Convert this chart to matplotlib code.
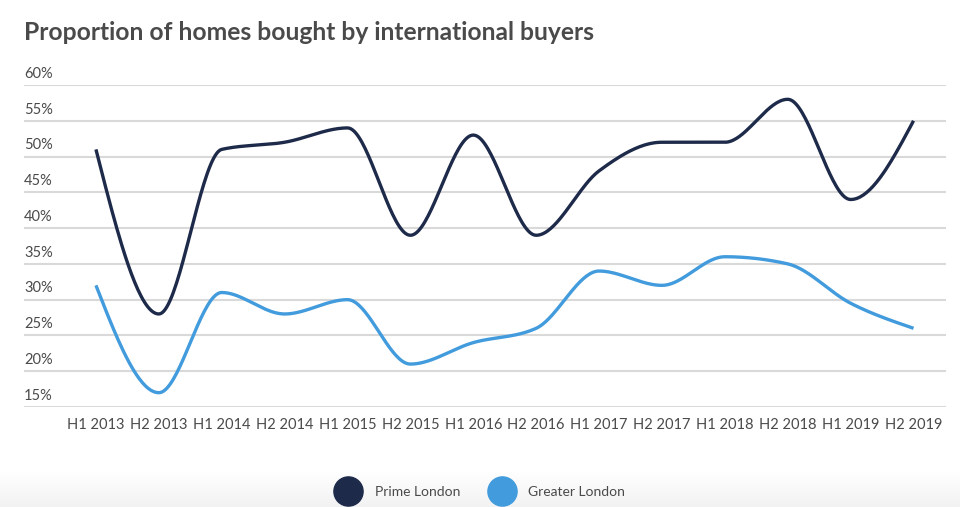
import numpy as np
import matplotlib
matplotlib.use('Agg')
from matplotlib import pyplot as plt
from matplotlib.lines import Line2D

periods = ['H1 2013', 'H2 2013', 'H1 2014', 'H2 2014', 'H1 2015', 'H2 2015', 'H1 2016',
           'H2 2016', 'H1 2017', 'H2 2017', 'H1 2018', 'H2 2018', 'H1 2019', 'H2 2019']
prime_london = [51, 28, 51, 52, 54, 39, 53, 39, 48, 52, 52, 58, 44, 55]
greater_london = [32, 17, 31, 28, 30, 21, 24, 26, 34, 32, 36, 35, 29.5, 26]
y_ticks = [15, 20, 25, 30, 35, 40, 45, 50, 55, 60]

PRIME = '#1e2a4a'
GREATER = '#419bdc'
TEXT = '#4a4a4a'

plt.rcParams['font.family'] = ['Lato', 'DejaVu Sans']


def monotone_x(xs, ys, n=40):
    # same smoothing as d3 curveMonotoneX, only for drawing the line
    xs = np.asarray(xs, float)
    ys = np.asarray(ys, float)
    h = np.diff(xs)
    s = np.diff(ys) / h
    t = np.zeros(len(xs))
    for i in range(1, len(xs) - 1):
        p = (s[i - 1] * h[i] + s[i] * h[i - 1]) / (h[i - 1] + h[i])
        t[i] = (np.sign(s[i - 1]) + np.sign(s[i])) * min(abs(s[i - 1]), abs(s[i]), 0.5 * abs(p))
    t[0] = (3 * s[0] - t[1]) / 2
    t[-1] = (3 * s[-1] - t[-2]) / 2
    px, py = [], []
    u = np.linspace(0, 1, n)
    for i in range(len(xs) - 1):
        dx = h[i] / 3
        x0, x1, x2, x3 = xs[i], xs[i] + dx, xs[i + 1] - dx, xs[i + 1]
        y0, y1, y2, y3 = ys[i], ys[i] + dx * t[i], ys[i + 1] - dx * t[i + 1], ys[i + 1]
        b = [(1 - u) ** 3, 3 * u * (1 - u) ** 2, 3 * u ** 2 * (1 - u), u ** 3]
        px.extend(b[0] * x0 + b[1] * x1 + b[2] * x2 + b[3] * x3)
        py.extend(b[0] * y0 + b[1] * y1 + b[2] * y2 + b[3] * y3)
    return px, py


fig = plt.figure(figsize=(9.6, 5.07), dpi=100)

# faint grey band at the bottom
bg = fig.add_axes([0, 0, 1, 0.07], zorder=-5)
k = np.linspace(0, 1, 50)
shade = 1 - 0.05 * k
grad = np.dstack([shade, shade, shade]).reshape(-1, 1, 3)
bg.imshow(grad, aspect='auto', extent=[0, 1, 0, 1])
bg.axis('off')

ax = fig.add_axes([0.025, 1 - 407 / 507, 0.96, (407 - 85) / 507])
x = np.arange(len(periods))
for v in y_ticks:
    ax.axhline(v, color='#d9d9d9', lw=1.5, zorder=0)
    ax.annotate(f'{v}%', xy=(0, v), xycoords=('axes fraction', 'data'),
                xytext=(0, 3), textcoords='offset points', va='bottom', ha='left',
                fontsize=10.5, color=TEXT)

for vals, col in [(prime_london, PRIME), (greater_london, GREATER)]:
    px, py = monotone_x(x, vals)
    ax.plot(px, py, color=col, lw=2.4, solid_capstyle='butt', zorder=3)

ax.set_xlim(-1.144, 13.51)
ax.set_ylim(15, 60)
ax.set_xticks(x)
ax.set_xticklabels(periods, fontsize=10.5, color=TEXT)
ax.set_yticks([])
ax.tick_params(axis='x', length=0, pad=8)
for sp in ax.spines.values():
    sp.set_visible(False)
ax.patch.set_alpha(0)

fig.text(0.025, 1 - 33 / 507, 'Proportion of homes bought by international buyers',
         fontsize=17.7, fontweight='bold', color=TEXT, va='center', ha='left')

handles = [Line2D([], [], marker='o', ls='none', markersize=21, color=PRIME, label='Prime London'),
           Line2D([], [], marker='o', ls='none', markersize=21, color=GREATER, label='Greater London')]
fig.legend(handles=handles, loc='center', bbox_to_anchor=(0.4995, 1 - 492 / 507), ncol=2,
           frameon=False, fontsize=10, labelcolor=TEXT, handletextpad=0.9, columnspacing=2.0)

fig.savefig('out.png', dpi=100)
